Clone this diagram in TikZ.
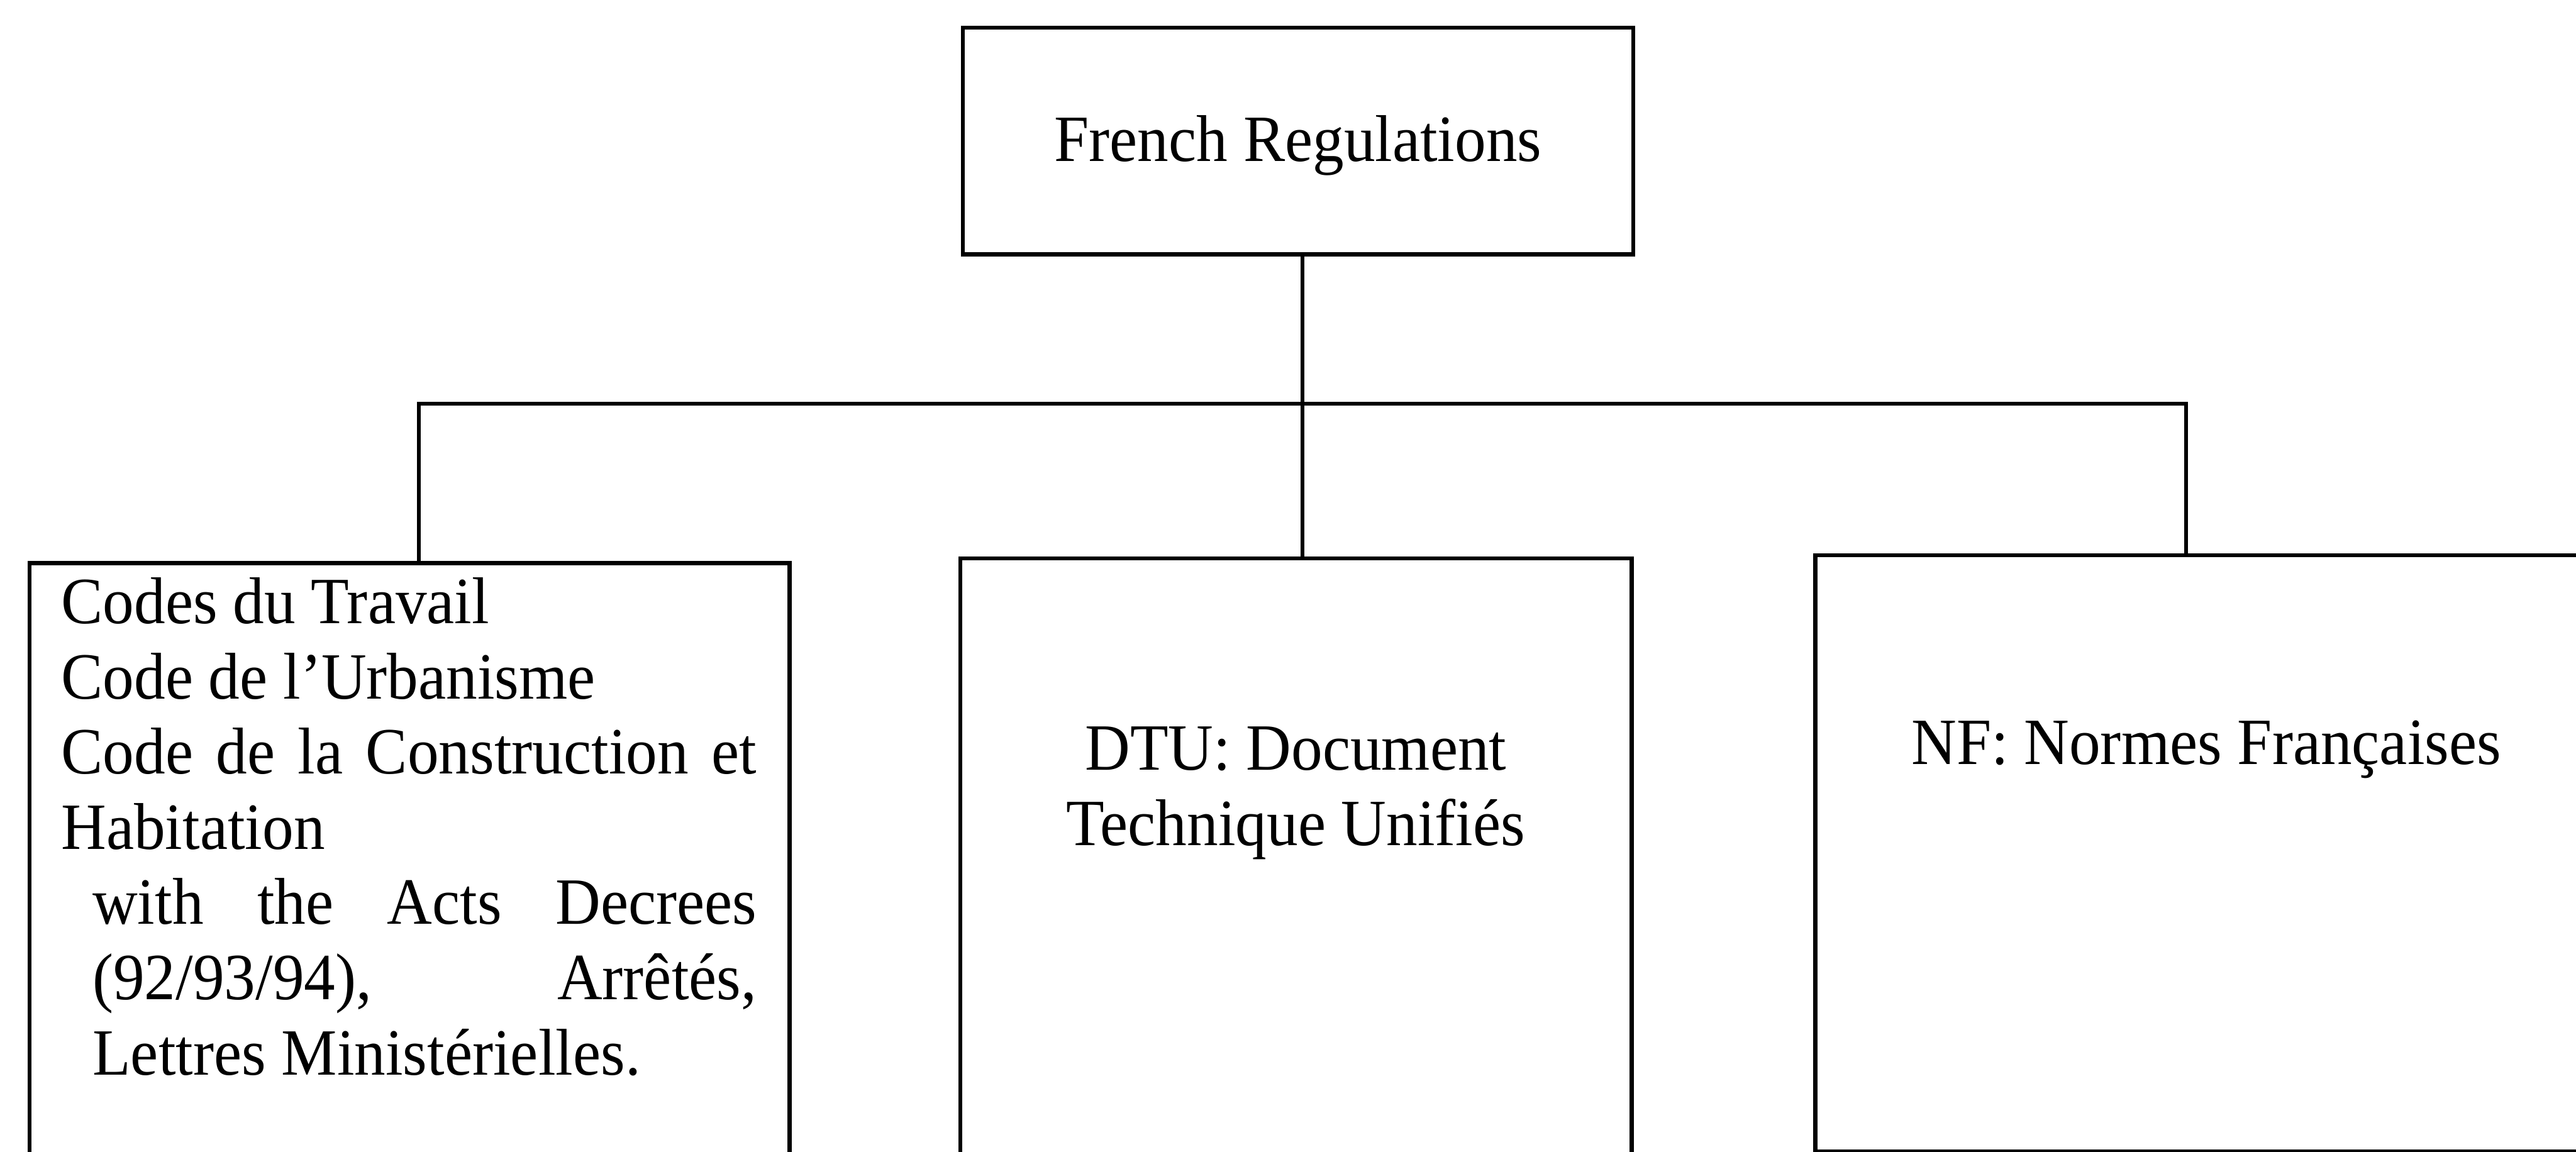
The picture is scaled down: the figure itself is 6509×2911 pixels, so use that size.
\documentclass[tikz,border=0pt]{standalone}
\usepackage{fontspec}
\setmainfont{Liberation Serif}[FakeStretch=0.945]
\begin{document}
\begin{tikzpicture}[x=0.1pt,y=-0.1pt,
  box/.style={draw=black,line width=1pt,rectangle,inner sep=0pt},
  link/.style={draw=black,line width=0.95pt,line join=miter},
  label/.style={inner sep=0pt,font=\fontsize{16.7}{19}\selectfont}]
  \useasboundingbox (0,0) rectangle (6509,2911);
  \clip (0,0) rectangle (6509,2911);

  % boxes (the lower ones run past the bottom edge of the page)
  \node[box,minimum width=169.4pt,minimum height=57.3pt,anchor=north west] (top) at (2428,65) {};
  \node[box,minimum width=192pt,minimum height=180pt,anchor=north west] (lbox) at (70,1418) {};
  \node[box,minimum width=169.7pt,minimum height=180pt,anchor=north west] (mbox) at (2421,1406) {};
  \node[box,minimum width=197.6pt,minimum height=150.7pt,anchor=north west] (rbox) at (4582,1398) {};

  % texts
  \node[label,anchor=base] (toptext) at (top.center |- 0,408) {French Regulations};
  \node[label,anchor=base west] (ltext) at (153,1576) {%
    \begin{tabular}[t]{@{}l@{}}
      Codes du Travail\\
      Code de l’Urbanisme\\
      \makebox[175.7pt][s]{Code de la Construction et}\\
      Habitation\\
      \hspace*{7.9pt}\makebox[167.8pt][s]{with the Acts Decrees}\\
      \hspace*{7.9pt}\makebox[167.8pt][s]{(92/93/94), Arrêtés,}\\
      \hspace*{7.9pt}Lettres Ministérielles.
    \end{tabular}};
  \node[label,anchor=base] (mtext) at (mbox.center |- 0,1946) {%
    \begin{tabular}[t]{@{}c@{}}
      DTU: Document\\
      Technique Unifiés
    \end{tabular}};
  \node[label,anchor=base] (rtext) at (rbox.center |- 0,1931) {NF: Normes Françaises};

  % connector tree
  \coordinate (jm) at (3291,1020);
  \coordinate (jl) at (1059,1020);
  \coordinate (jr) at (5524,1020);
  \draw[link] (top.south -| jm) -- (mbox.north -| jm);
  \draw[link] (lbox.north -| jl) -- (jl) -- (jr) -- (rbox.north -| jr);
\end{tikzpicture}
\end{document}
